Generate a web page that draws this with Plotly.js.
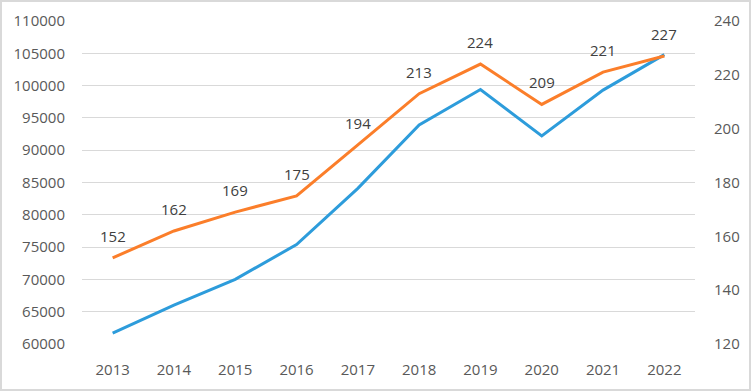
<!DOCTYPE html>
<html>
<head>
<meta charset="utf-8">
<script src="https://cdn.plot.ly/plotly-3.0.1.min.js"></script>
<style>
  html, body { margin: 0; padding: 0; background: #fff; }
  #wrap { width: 751px; height: 391px; box-sizing: border-box; border: 2px solid #d9d9d9; }
  #chart { width: 747px; height: 387px; }
</style>
</head>
<body>
<div id="wrap"><div id="chart"></div></div>
<script>
const years = ['2013','2014','2015','2016','2017','2018','2019','2020','2021','2022'];
const blueValues = [61700, 66000, 70000, 75400, 84100, 93900, 99400, 92200, 99300, 104800];
const orangeValues = [152, 162, 169, 175, 194, 213, 224, 209, 221, 227];

const font = {family: 'Open Sans, sans-serif', size: 15, color: '#595959'};

const traces = [
  {x: years, y: blueValues, type: 'scatter', mode: 'lines', yaxis: 'y',
   line: {color: '#2D9CDB', width: 3}, hoverinfo: 'skip'},
  {x: years, y: orangeValues, type: 'scatter', mode: 'lines', yaxis: 'y2',
   line: {color: '#FB7E2A', width: 3}, hoverinfo: 'skip'}
];

const annotations = years.map((yr, i) => ({
  x: i, y: orangeValues[i], xref: 'x', yref: 'y2', text: String(orangeValues[i]),
  showarrow: false, yshift: 22, font: {family: 'Open Sans, sans-serif', size: 15, color: '#404040'}
}));

const layout = {
  width: 747, height: 387,
  margin: {l: 80, r: 54, t: 19, b: 45},
  paper_bgcolor: '#fff', plot_bgcolor: '#fff',
  showlegend: false,
  font: font,
  xaxis: {type: 'category', range: [-0.5, 9.5], showgrid: false, zeroline: false,
          showline: false, ticks: 'outside', ticklen: 12, tickcolor: 'rgba(0,0,0,0)', tickfont: font},
  yaxis: {range: [60000, 110000], dtick: 5000, tick0: 60000, tickformat: 'd', showgrid: true, gridcolor: '#d9d9d9',
          gridwidth: 1, zeroline: false, showline: false, ticks: 'outside', ticklen: 13,
          tickcolor: 'rgba(0,0,0,0)', tickfont: font},
  yaxis2: {range: [120, 240], dtick: 20, tick0: 120, overlaying: 'y', side: 'right', showgrid: false,
           zeroline: false, showline: false, ticks: 'outside', ticklen: 15,
           tickcolor: 'rgba(0,0,0,0)', tickfont: font},
  annotations: annotations
};

Plotly.newPlot('chart', traces, layout, {staticPlot: true, displayModeBar: false});
</script>
</body>
</html>
